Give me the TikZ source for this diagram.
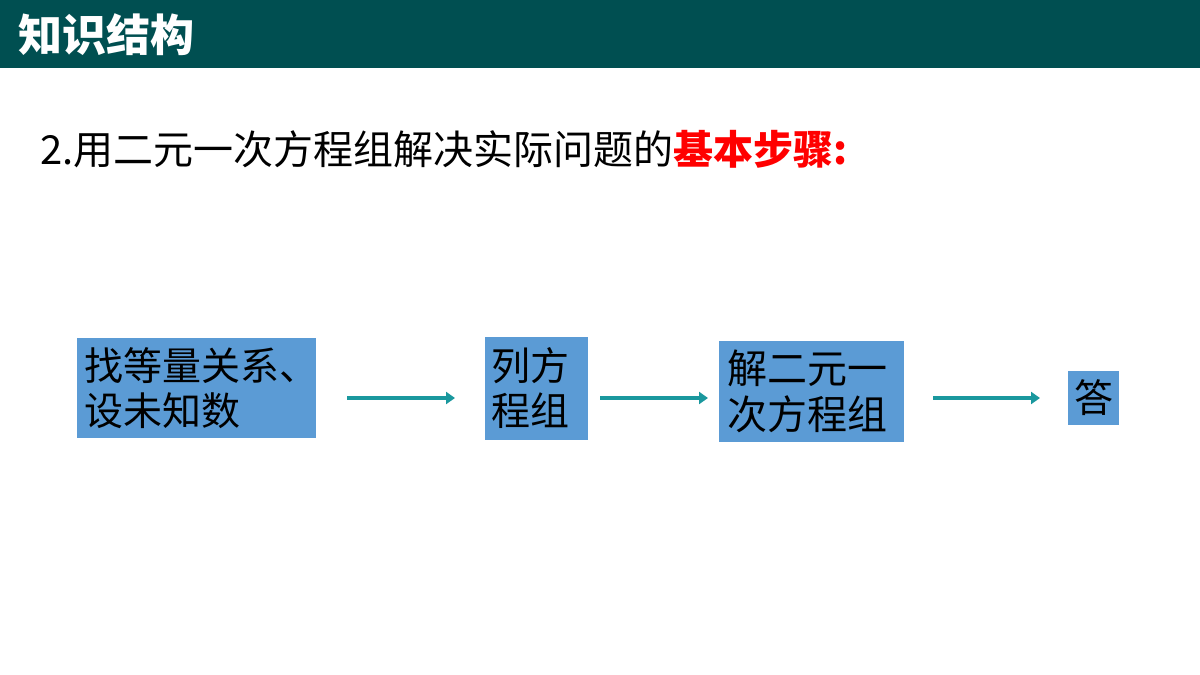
\documentclass[tikz,border=0pt]{standalone}
\usepackage{fontspec}
\setmainfont{Noto Sans CJK SC}
\usetikzlibrary{arrows.meta}
\definecolor{headbg}{RGB}{0,79,81}
\definecolor{boxfill}{RGB}{91,155,213}
\definecolor{arrowteal}{RGB}{26,152,158}
\definecolor{keyred}{RGB}{255,0,0}
\tikzset{
  stepbox/.style={fill=boxfill, draw=none, inner xsep=3.5pt, inner ysep=0pt, align=left,
    font=\fontsize{19.5}{22.5}\selectfont, text=black, anchor=center},
  flow/.style={draw=arrowteal, line width=2.2pt, -{Triangle[length=4.5pt,width=6pt]}},
}
\begin{document}
\begin{tikzpicture}[x=0.5pt,y=-0.5pt]
\useasboundingbox (0,0) rectangle (1200,675);
\fill[white] (0,0) rectangle (1200,675);
% header
\fill[headbg] (0,0) rectangle (1200,68);
\node[anchor=west, text=white, font=\fontsize{22}{24}\selectfont\bfseries, inner sep=0pt] (title) at (18,35) {知识结构};
% subtitle
\node[anchor=base west, inner sep=0pt, font=\fontsize{20}{24}\selectfont] (sub) at (40,164)
  {2.用二元一次方程组解决实际问题的\textcolor{keyred}{\bfseries 基本步骤:}};
% boxes
\node[stepbox, text width=112.5pt, minimum height=50pt] (b1) at (196.5,388) {\raisebox{-1pt}{找等量关系、}\\\raisebox{-1pt}{设未知数}};
\node[stepbox, inner xsep=3.5pt, text width=44.5pt, minimum height=51.5pt] (b2) at (536,388.5) {\raisebox{-1pt}{列方}\\\raisebox{-1pt}{程组}};
\node[stepbox, font=\fontsize{20}{23}\selectfont, inner xsep=4pt, text width=84.5pt, minimum height=50.5pt] (b3) at (811.5,391.5) {\raisebox{-1pt}{解二元一}\\\raisebox{-1pt}{次方程组}};
\node[stepbox, align=center, inner xsep=3pt, text width=19.5pt, minimum height=27pt] (b4) at (1093.5,398) {答};
% arrows
\coordinate (a1s) at (347,398);
\coordinate (a1e) at (455,398);
\coordinate (a2s) at (600,398);
\coordinate (a2e) at (708,398);
\coordinate (a3s) at (933,398);
\coordinate (a3e) at (1040,398);
\draw[flow] (a1s) -- (a1e);
\draw[flow] (a2s) -- (a2e);
\draw[flow] (a3s) -- (a3e);
\end{tikzpicture}
\end{document}
